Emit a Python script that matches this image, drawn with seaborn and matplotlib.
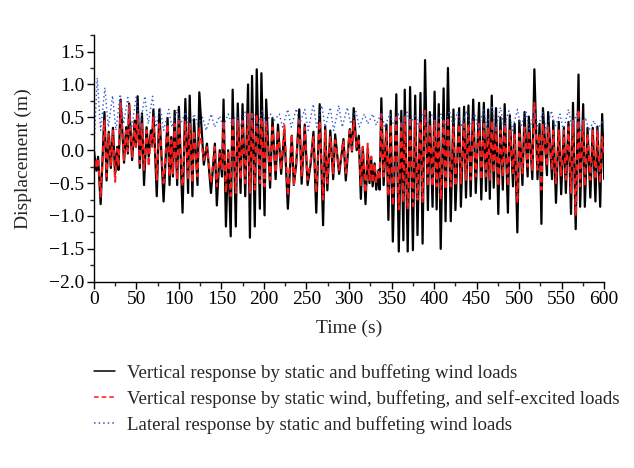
import matplotlib
matplotlib.use("Agg")
import matplotlib.pyplot as plt
from matplotlib.ticker import MultipleLocator
import seaborn as sns
import pandas as pd

# ---- data (extrema of the time histories) ----
vert_time = [
    0, 3, 5, 8, 12.5, 15, 17.5, 20, 22.5, 25,
    27.5, 29, 31.5, 35.5, 38, 40, 41.5, 45, 48, 49.5,
    51.5, 54, 56.6, 59, 62, 64.5, 67, 68.5, 70, 74,
    77, 82, 86.7, 89, 91, 93, 95, 98, 100, 104.3,
    107.6, 110.8, 112.7, 115.9, 117.8, 121.9, 124, 129.3, 133, 137.7,
    142.3, 144.6, 148, 150.7, 152.5, 155.3, 158, 160.9, 163.2, 166.9,
    169.2, 172.5, 174.8, 178, 181.3, 183.5, 186, 189.2, 191.5, 195.2,
    197, 200.7, 202.6, 207.2, 210, 213.7, 216.5, 220.2, 224, 228.1,
    232.7, 235.1, 238, 241.5, 244.3, 248, 251.3, 255, 258.2, 261.5,
    265.5, 269.5, 272, 274.5, 278, 281.4, 283.7, 288.4, 293.5, 296.2,
    300.9, 303.5, 305.5, 309, 311.5, 313.9, 316.2, 319.4, 322, 324.1,
    326, 327.8, 330.1, 332, 334.7, 336, 338, 340.7, 344, 346.3,
    349, 351.5, 355.6, 358.5, 361.5, 363.9, 365.5, 369, 371.8, 375.1,
    377.8, 380.5, 384, 386.5, 389.4, 392.7, 395, 398.2, 400.6, 403,
    405.5, 407.8, 411.2, 413.5, 416.3, 419.6, 422.8, 425.1, 429.5, 431.5,
    435.3, 437.5, 440.4, 443, 446, 449, 452.9, 455.5, 458.5, 461,
    463.6, 465.5, 467.8, 470.1, 472.8, 475.5, 478, 480.8, 483, 486.8,
    489, 492.8, 494.7, 497.9, 500.2, 503.9, 506.3, 510, 511.4, 515.5,
    517.9, 521.6, 524, 526.2, 528, 532.7, 534.1, 538.7, 540.1, 543.3,
    546.6, 549.4, 552.6, 554.9, 558, 561, 563.3, 566.5, 569.8, 571.7,
    575.3, 577.2, 580.4, 583.7, 586.5, 589.7, 592, 595.3, 597.6, 600,
]

vert_buffeting = [
    0.0, -0.31, -0.10, -0.82, 0.58, -0.46, 0.28, -0.27, 0.34, -0.36,
    0.05, -0.30, 0.77, -0.19, 0.35, -0.05, 0.71, -0.15, 0.45, 0.05,
    0.82, -0.27, 0.56, -0.53, 0.35, -0.10, 0.30, 0.10, 0.62, -0.70,
    0.62, -0.78, 0.49, -0.53, 0.20, -0.40, 0.60, -0.53, 0.66, -0.95,
    0.78, -0.65, 0.83, -0.70, 0.47, -0.53, 0.88, -0.22, 0.10, -0.65,
    0.10, -0.84, 0.00, -0.40, 0.77, -1.16, 0.00, -1.31, 0.92, -1.16,
    0.71, -0.65, 0.70, -0.70, 1.00, -1.33, 1.13, -1.16, 1.23, -0.89,
    1.17, -0.99, 0.77, -0.57, 0.49, -0.44, 0.39, -0.36, 0.30, -0.89,
    0.22, -0.53, -0.20, 0.62, -0.51, 0.39, -0.53, -0.20, 0.28, -0.95,
    0.70, -1.14, 0.36, -0.61, 0.30, -0.44, 0.24, -0.36, 0.17, -0.46,
    0.32, -0.02, 0.64, 0.00, 0.22, -0.74, 0.05, -0.82, 0.02, -0.50,
    -0.10, -0.55, -0.20, -0.60, -0.30, -0.60, 0.79, -0.53, 0.39, -1.06,
    0.60, -1.39, 0.85, -1.54, 0.60, -1.37, 0.92, -1.54, 0.96, -1.52,
    0.83, -1.29, 0.87, -1.42, 1.37, -0.91, 0.58, -0.86, 0.89, -0.90,
    0.70, -1.50, 0.94, -1.08, 1.25, -1.08, 0.62, -0.91, 0.64, -0.86,
    0.66, -0.72, 0.68, -0.70, 0.77, -0.65, 0.72, -0.75, 0.72, -0.62,
    0.62, -0.74, 0.83, -0.57, 0.64, -0.97, 0.50, -0.60, 0.70, -0.95,
    0.53, -0.55, 0.40, -1.25, 0.45, -0.53, 0.58, -0.40, 0.51, -0.44,
    1.23, -0.44, 0.40, -1.12, 0.64, -0.38, 0.58, -0.44, 0.45, -0.80,
    0.43, -0.67, 0.34, -0.65, 0.43, -0.97, 0.72, -1.20, 1.15, -0.86,
    0.70, -0.86, 0.34, -0.72, 0.34, -0.78, 0.36, -0.86, 0.55, -0.44,
]

vert_self_excited = [
    0.0, -0.28, -0.12, -0.72, 0.45, -0.40, 0.25, -0.25, 0.30, -0.48,
    0.02, -0.25, 0.72, -0.15, 0.30, -0.02, 0.70, -0.10, 0.40, 0.05,
    0.55, -0.20, 0.40, -0.30, 0.30, -0.25, 0.25, 0.05, 0.50, -0.45,
    0.40, -0.50, 0.40, -0.40, 0.15, -0.35, 0.40, -0.45, 0.45, -0.55,
    0.45, -0.45, 0.40, -0.50, 0.30, -0.40, 0.35, -0.15, 0.05, -0.50,
    0.05, -0.55, -0.05, -0.30, 0.45, -0.65, 0.00, -0.70, 0.50, -0.65,
    0.45, -0.45, 0.45, -0.50, 0.55, -0.65, 0.55, -0.60, 0.55, -0.50,
    0.50, -0.55, 0.45, -0.45, 0.35, -0.35, 0.30, -0.30, 0.38, -0.70,
    0.25, -0.55, -0.15, 0.45, -0.40, 0.35, -0.45, -0.15, 0.20, -0.65,
    0.45, -0.75, 0.30, -0.50, 0.20, -0.35, 0.15, -0.30, 0.15, -0.35,
    0.30, 0.00, 0.45, 0.05, 0.15, -0.55, 0.05, -0.65, 0.10, -0.45,
    -0.10, -0.50, -0.20, -0.50, -0.30, -0.45, 0.55, -0.40, 0.30, -0.70,
    0.40, -0.85, 0.50, -0.90, 0.40, -0.80, 0.50, -0.90, 0.50, -0.85,
    0.45, -0.75, 0.45, -0.80, 0.60, -0.55, 0.40, -0.55, 0.45, -0.55,
    0.40, -0.75, 0.45, -0.60, 0.50, -0.55, 0.35, -0.55, 0.40, -0.50,
    0.40, -0.45, 0.40, -0.45, 0.45, -0.40, 0.40, -0.45, 0.40, -0.40,
    0.35, -0.45, 0.45, -0.35, 0.35, -0.55, 0.30, -0.40, 0.40, -0.55,
    0.30, -0.35, 0.25, -0.80, 0.25, -0.35, 0.35, -0.25, 0.30, -0.30,
    0.72, -0.30, 0.25, -0.60, 0.40, -0.25, 0.35, -0.30, 0.30, -0.50,
    0.30, -0.40, 0.30, -0.45, 0.35, -0.65, 0.45, -1.00, 0.62, -0.55,
    0.45, -0.55, 0.25, -0.45, 0.30, -0.45, 0.30, -0.50, 0.20, -0.10,
]

lat_time = [
    0, 4, 8, 13, 17, 22, 26, 31, 35, 40, 44,
    50, 54, 60, 64, 69, 73, 78, 82,
    88, 92, 98, 102, 108, 112, 118, 122, 128, 132, 138, 142, 148, 152, 158, 162,
    168, 172, 178, 182, 188, 192, 198, 202, 208, 212, 218, 222, 228, 232, 238, 242,
    248, 252, 258, 262, 268, 272, 278, 282, 288, 292, 298, 302, 308, 312, 318, 322,
    328, 332, 338, 342, 348, 352, 358, 362, 368, 372, 378, 382, 388, 392, 398, 402,
    408, 412, 418, 422, 428, 432, 438, 442, 448, 452, 458, 462, 468, 472, 478, 482,
    488, 492, 498, 502, 508, 512, 518, 522, 528, 532, 538, 542, 548, 552, 558, 562,
    568, 572, 578, 582, 588, 592, 598, 600,
]

lat_buffeting = [
    0.0, 1.10, 0.30, 0.95, 0.35, 0.83, 0.30, 0.85, 0.40, 0.80,
    0.30, 0.83, 0.35, 0.82, 0.40, 0.82, 0.35, 0.65, 0.30, 0.62,
    0.35, 0.62, 0.40, 0.58, 0.35, 0.55, 0.40, 0.50, 0.30, 0.55,
    0.35, 0.52, 0.35, 0.55, 0.40, 0.55, 0.35, 0.58, 0.40, 0.55,
    0.35, 0.60, 0.40, 0.55, 0.45, 0.55, 0.35, 0.62, 0.35, 0.63,
    0.40, 0.62, 0.30, 0.70, 0.35, 0.68, 0.35, 0.65, 0.30, 0.68,
    0.35, 0.65, 0.40, 0.60, 0.35, 0.55, 0.40, 0.55, 0.38, 0.58,
    0.35, 0.55, 0.40, 0.55, 0.35, 0.58, 0.40, 0.55, 0.35, 0.58,
    0.40, 0.55, 0.38, 0.55, 0.35, 0.60, 0.40, 0.58, 0.35, 0.60,
    0.40, 0.55, 0.30, 0.62, 0.35, 0.68, 0.30, 0.65, 0.35, 0.60,
    0.30, 0.62, 0.35, 0.60, 0.30, 0.60, 0.35, 0.58, 0.30, 0.60,
    0.35, 0.55, 0.30, 0.62, 0.35, 0.55, 0.30, 0.50, 0.30, 0.45,
    0.30, 0.45, 0.35,
]

labels = [
    "Vertical response by static and buffeting wind loads",
    "Vertical response by static wind, buffeting, and self-excited loads",
    "Lateral response by static and buffeting wind loads",
]
x_ticks = list(range(0, 601, 50))
y_ticks = [-2.0, -1.5, -1.0, -0.5, 0.0, 0.5, 1.0, 1.5]

# ---- styling ----
sns.set_style("ticks")
plt.rcParams["font.family"] = ["Liberation Serif", "DejaVu Serif"]
plt.rcParams["axes.unicode_minus"] = True

df_v = pd.DataFrame({"t": vert_time, "b": vert_buffeting, "s": vert_self_excited})
df_l = pd.DataFrame({"t": lat_time, "l": lat_buffeting})

fig = plt.figure(figsize=(6.34, 4.68), dpi=100)
ax = fig.add_axes([0.148, 0.398, 0.805, 0.527])

sns.lineplot(data=df_v, x="t", y="b", ax=ax, color="black", lw=1.6,
             label=labels[0], estimator=None, sort=False)
sns.lineplot(data=df_v, x="t", y="s", ax=ax, color="#ff1a1a", lw=1.5,
             label=labels[1], estimator=None, sort=False)
sns.lineplot(data=df_l, x="t", y="l", ax=ax, color="#3355cc", lw=1.0,
             label=labels[2], estimator=None, sort=False)
lines = ax.get_lines()
lines[1].set_linestyle((0, (3.0, 2.0)))
lines[2].set_linestyle((0, (1, 2)))

ax.set_xlim(0, 600)
ax.set_ylim(-2.0, 1.75)
ax.set_xticks(x_ticks)
ax.set_yticks(y_ticks)
ax.xaxis.set_minor_locator(MultipleLocator(25))
ax.yaxis.set_minor_locator(MultipleLocator(0.25))
ax.tick_params(axis="both", which="major", direction="out", length=5, width=1,
               labelsize=14, colors="black", pad=2)
ax.tick_params(axis="both", which="minor", direction="out", length=3, width=1)
ax.set_xlabel("Time (s)", fontsize=14, labelpad=8)
ax.set_ylabel("Displacement (m)", fontsize=14, labelpad=12)
for s in ["left", "bottom"]:
    ax.spines[s].set_linewidth(1.0)
    ax.spines[s].set_color("black")
sns.despine(ax=ax)

handles, labs = ax.get_legend_handles_labels()
ax.get_legend().remove()
leg = fig.legend(handles, labs, loc="upper left", bbox_to_anchor=(0.137, 0.238),
                 frameon=False, fontsize=13.6, handlelength=1.1, handletextpad=0.65,
                 labelspacing=0.42, borderaxespad=0)
for h in leg.get_lines():
    h.set_linewidth(1.1)

fig.savefig("out.png", dpi=100)
